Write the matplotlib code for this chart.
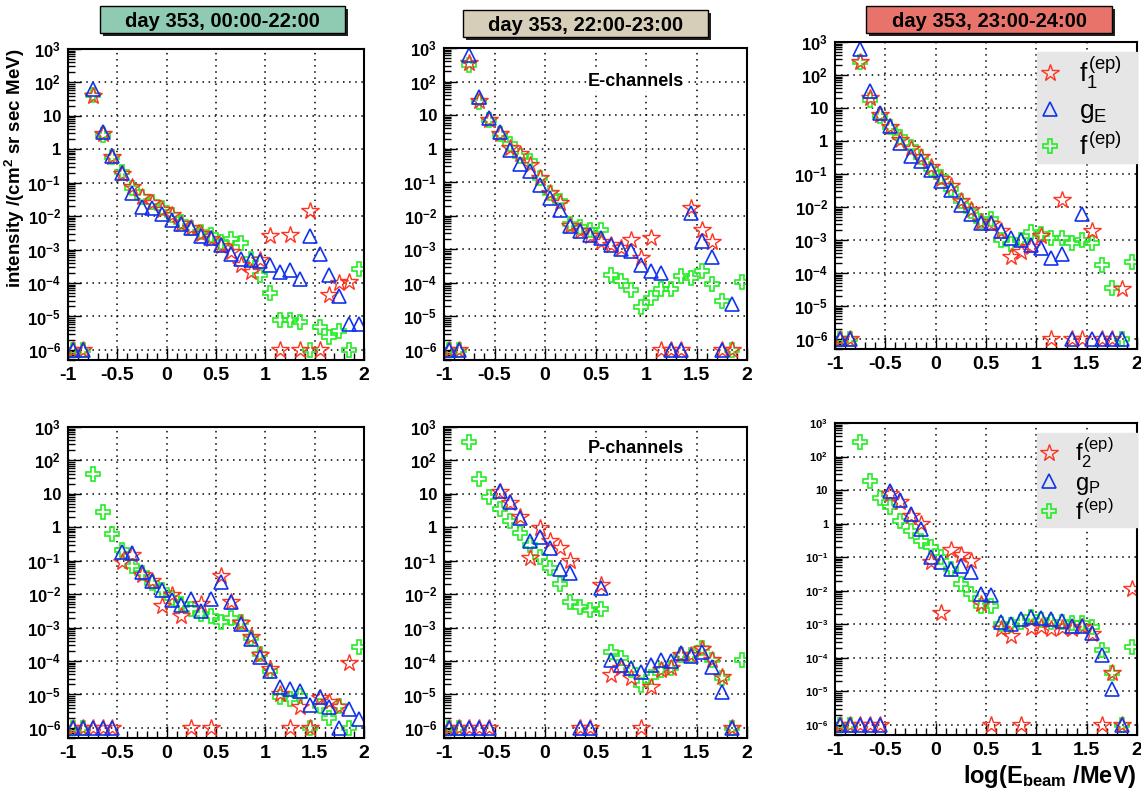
import numpy as np
import matplotlib
matplotlib.use('Agg')
import matplotlib.pyplot as plt
from matplotlib.patches import Rectangle
from matplotlib.ticker import MultipleLocator, LogLocator, NullFormatter

plt.rcParams['font.family'] = 'Liberation Sans'
plt.rcParams['mathtext.fontset'] = 'custom'
plt.rcParams['mathtext.rm'] = 'Liberation Sans'
plt.rcParams['mathtext.it'] = 'Liberation Sans'
plt.rcParams['mathtext.bf'] = 'Liberation Sans:bold'
plt.rcParams['axes.unicode_minus'] = False

Z = 1e-6     # empty bins sit on the floor
N = np.nan   # bin not drawn

# bin centres, log(E_beam/MeV)
log_e = [-0.95, -0.85, -0.75, -0.65, -0.55, -0.45, -0.35, -0.25, -0.15, -0.05,
         0.05, 0.15, 0.25, 0.35, 0.45, 0.55, 0.65, 0.75, 0.85, 0.95,
         1.05, 1.15, 1.25, 1.35, 1.45, 1.55, 1.65, 1.75, 1.85, 1.95]

# %% E-channels
e1_f1 = [Z, Z, 38, 2.8, 0.6, 0.18, 0.075, 0.038, 0.024, 0.015, 0.011, 0.006, 0.0045, 0.003, 0.0021,
         0.0013, 8.5e-4, 3.4e-4, 2.1e-4, 5e-4, 2.6e-3, Z, 2.8e-3, Z, 0.0145, Z, 4.5e-5, 1.0e-4, 1.07e-4, N]
e1_gE = [Z, Z, 65, 3.2, 0.63, 0.2, 0.048, 0.019, 0.017, 0.012, 0.0076, 0.0058, 0.0043, 0.0026, 0.0022,
         0.0014, 7.6e-4, 5.4e-4, 4.8e-4, 4.5e-4, 3.4e-4, 2.1e-4, 2.5e-4, 1.35e-4, 2.6e-3, 7.6e-4, 1.8e-4, 4.1e-5, 6e-6, 6e-6]
e1_f = [Z, Z, 42, 2.6, 0.6, 0.21, 0.068, 0.038, 0.027, 0.017, 0.011, 0.0068, 0.0045, 0.0034, 0.0027,
        0.0017, 0.0021, 0.0016, 5.4e-4, 1.7e-4, 5.1e-5, 8e-6, 8e-6, 7e-6, Z, 5e-6, 2.4e-6, 3.8e-6, Z, 2.6e-4]

e2_f1 = [Z, Z, 350, 26, 7, 2.8, 1.07, 0.68, 0.32, 0.13, 0.048, 0.024, 0.0048, 0.0034, 0.0025,
         0.0017, 0.0013, 0.0011, 0.0019, 5.4e-4, 2.2e-3, Z, Z, Z, 0.017, 3.8e-3, 1.7e-3, Z, Z, N]
e2_gE = [Z, Z, 600, 35, 8, 3.2, 0.9, 0.34, 0.21, 0.085, 0.034, 0.015, 0.005, 0.0034, 0.0027,
         0.0021, 0.0013, 1.0e-3, 8.8e-4, 3.5e-4, 2.2e-4, 1.9e-4, Z, Z, 0.012, 1.8e-3, 6e-4, Z, 2.4e-5, N]
e2_f = [Z, Z, 320, 24, 7, 2.8, 1.35, 0.6, 0.43, 0.13, 0.048, 0.027, 0.0056, 0.0045, 0.0038,
        0.0038, 1.7e-4, 1.1e-4, 6e-5, 1.9e-5, 3.5e-5, 6.5e-5, 6.5e-5, 1.6e-4, 1.4e-4, 2.2e-4, 9.5e-5, 2.9e-5, Z, 1.07e-4]

e3_f1 = [Z, Z, 250, 20, 6, 2.7, 1.1, 0.57, 0.32, 0.16, 0.073, 0.042, 0.015, 0.0083, 0.0036,
         0.003, 0.0019, 3e-4, 4.3e-4, 6.3e-4, 1.3e-3, Z, 0.0166, Z, Z, 1.9e-3, Z, Z, 3.2e-5, N]
e3_gE = [Z, Z, 600, 32, 7, 2.9, 0.87, 0.35, 0.24, 0.13, 0.062, 0.033, 0.0118, 0.0063, 0.0033,
         0.0033, 0.0019, 0.00115, 1.0e-3, 7.2e-4, 5.6e-4, 2.9e-4, 3.8e-4, Z, 6e-3, Z, Z, Z, Z, N]
e3_f = [Z, Z, 250, 18, 5.7, 2.6, 1.3, 0.64, 0.32, 0.14, 0.08, 0.036, 0.015, 0.0075, 0.0038,
        0.0042, 1.0e-3, 7.6e-4, 1.0e-3, 1.7e-3, 1.5e-3, 1.15e-3, 1.15e-3, 8e-4, 1.0e-3, 8e-4, 1.7e-4, 3.5e-5, Z, 2.2e-4]

# %% P-channels
p1_f2 = [Z, Z, Z, Z, Z, 0.093, 0.15, 0.037, 0.024, 0.0045, 0.0095, 0.0023, Z, 0.0052, Z,
         0.035, 0.006, 1.4e-3, 5.2e-4, 1.5e-4, 5.9e-5, 1.05e-5, Z, 4.2e-6, Z, 8e-6, 5.9e-6, 4.2e-6, 8.9e-5, N]
p1_gP = [Z, Z, Z, Z, Z, 0.18, 0.17, 0.047, 0.025, 0.013, 0.0066, 0.0047, 0.0074, 0.0031, 0.0074,
         0.023, 0.0059, 1.3e-3, 4.7e-4, 1.3e-4, 5.2e-5, 1.65e-5, 1.5e-5, 1.3e-5, 4.9e-6, 8.3e-6, 4.2e-6, Z, 3.7e-6, 1.8e-6]
p1_f = [Z, Z, 39, 2.8, 0.63, 0.21, 0.068, 0.042, 0.021, 0.013, 0.0078, 0.0052, 0.0037, 0.0026, 0.0023,
        0.0015, 0.0019, 0.0015, 4.9e-4, 1.66e-4, 5.2e-5, 8.3e-6, 7.4e-6, 9.3e-6, Z, 4.5e-6, 2e-6, 4.5e-6, Z, 2.6e-4]

p2_f2 = [Z, Z, Z, Z, Z, 11, 5.5, 2, 0.125, 0.95, 0.4, 0.24, 0.1, Z, Z,
         0.019, 3.9e-5, 6e-5, 3.2e-5, Z, 1.7e-5, 5.4e-5, 6.2e-5, 1.48e-4, 1.55e-4, 2.3e-4, 1.1e-4, 3.4e-5, Z, N]
p2_gP = [Z, Z, Z, Z, Z, 12, 5.9, 1.95, 0.4, 0.52, 0.245, 0.055, 0.042, Z, Z,
         0.015, 1.1e-4, 7.6e-5, 6e-5, 4.6e-5, 7.6e-5, 1.1e-4, 1e-4, 1.8e-4, 1.45e-4, 1.9e-4, 6.6e-5, 1.2e-5, Z, N]
p2_f = [Z, Z, 350, 28, 7.8, 3.5, 1.5, 0.66, 0.29, 0.13, 0.059, 0.02, 0.0058, 0.004, 0.0034,
        0.0036, 1.9e-4, 1.2e-4, 5.4e-5, 1.9e-5, 3.4e-5, 5.4e-5, 6e-5, 1.5e-4, 1.5e-4, 2.4e-4, 1.07e-4, 3.2e-5, Z, 1.1e-4]

p3_f2 = [Z, Z, Z, Z, Z, 7.7, 4.3, 1.7, 1.0, 0.07, 0.0021, 0.16, 0.12, 0.077, 0.0039,
         Z, 7e-4, 4.5e-4, Z, 8e-4, 8.2e-4, 7e-4, 8e-4, 7e-4, 8.2e-4, 5.3e-4, Z, 3.6e-5, Z, 0.011]
p3_gP = [Z, Z, Z, Z, Z, 9.5, 4.9, 1.9, 0.7, 0.1, 0.07, 0.044, 0.055, 0.035, 0.008,
         0.0075, 1.2e-3, 1.05e-3, 1.4e-3, 1.6e-3, 1.5e-3, 1.4e-3, 1.25e-3, 9e-4, 9e-4, 5.6e-4, 1.2e-4, 1.2e-5, Z, N]
p3_f = [Z, Z, 270, 19, 6, 3.1, 1.2, 0.6, 0.31, 0.2, 0.1, 0.045, 0.016, 0.0078, 0.0036,
        0.0036, 1e-3, 9.5e-4, 1.2e-3, 1.6e-3, 1.35e-3, 1.2e-3, 1.2e-3, 1.1e-3, 1.1e-3, 8.3e-4, 1.7e-4, 3.5e-5, Z, 2.1e-4]

titles = ['day 353, 00:00-22:00', 'day 353, 22:00-23:00', 'day 353, 23:00-24:00']
title_colors = ['#8fcab2', '#d6ceb8', '#e8736a']

y_ticks = [1e-6, 1e-5, 1e-4, 1e-3, 1e-2, 1e-1, 1, 10, 1e2, 1e3]
y_labels = [r'$\mathbf{10^{-6}}$', r'$\mathbf{10^{-5}}$', r'$\mathbf{10^{-4}}$', r'$\mathbf{10^{-3}}$',
            r'$\mathbf{10^{-2}}$', r'$\mathbf{10^{-1}}$', '1', '10', r'$\mathbf{10^{2}}$', r'$\mathbf{10^{3}}$']
x_ticks = [-1, -0.5, 0, 0.5, 1, 1.5, 2]
x_labels = ['-1', '-0.5', '0', '0.5', '1', '1.5', '2']

RED, BLUE, GREEN = '#ff3322', '#1133ee', '#22ee22'

W, H = 1141, 794
fig = plt.figure(figsize=(W / 100, H / 100), dpi=100)


def px_axes(l, t, r, b):
    return fig.add_axes([l / W, 1 - b / H, (r - l) / W, (b - t) / H])


def style(ax, ylab_size=12):
    ax.set_yscale('log')
    ax.set_xlim(-1, 2)
    ax.set_ylim(5e-7, 1e3)
    ax.set_xticks(x_ticks, labels=x_labels, fontsize=14, fontweight='bold')
    ax.set_yticks(y_ticks, labels=y_labels, fontsize=ylab_size, fontweight='bold')
    ax.xaxis.set_minor_locator(MultipleLocator(0.1))
    ax.yaxis.set_minor_locator(LogLocator(base=10, subs=np.arange(2, 10) * 1.0, numticks=30))
    ax.yaxis.set_minor_formatter(NullFormatter())
    ax.tick_params(which='both', direction='in', top=False, right=False, width=1)
    ax.tick_params(which='major', length=9, pad=5)
    ax.tick_params(which='minor', length=5)
    ax.grid(True, which='major', color='k', linestyle=(0, (1, 3)), linewidth=1.1)
    for s in ax.spines.values():
        s.set_linewidth(1.5)


def draw(ax, f_pair, g, f):
    ax.plot(log_e, f, ls='none', marker='P', ms=10.5, mfc='none', mec=GREEN, mew=1.2)
    ax.plot(log_e, f_pair, ls='none', marker='*', ms=13, mfc='none', mec=RED, mew=1.0)
    ax.plot(log_e, g, ls='none', marker='^', ms=10.5, mfc='none', mec=BLUE, mew=1.2)


def title_box(x0, y0, x1, y1, color, text):
    sh = 3
    fig.add_artist(Rectangle(((x0 + sh) / W, 1 - (y1 + sh) / H), (x1 - x0) / W, (y1 - y0) / H,
                             transform=fig.transFigure, fc='#222222', ec='none'))
    fig.add_artist(Rectangle((x0 / W, 1 - y1 / H), (x1 - x0) / W, (y1 - y0) / H,
                             transform=fig.transFigure, fc=color, ec='k', lw=1))
    fig.text((x0 + x1) / 2 / W, 1 - (y0 + y1) / 2 / H, text, ha='center', va='center_baseline',
             fontsize=14.5, fontweight='bold')


def legend_box(ax, labels, y_top, height, size, spacing):
    star, tri, plus = ax.lines[1], ax.lines[2], ax.lines[0]
    ax.legend([star, tri, plus], labels,
              loc='upper left', bbox_to_anchor=(0.669, y_top - height, 0.331, height),
              mode='expand', borderaxespad=0, frameon=True, fancybox=False,
              facecolor='#e6e6e6', edgecolor='#e6e6e6', framealpha=1,
              fontsize=size, handlelength=0.8, handletextpad=0.7, labelspacing=spacing,
              borderpad=0.1)


# top row: E-channels
ax1 = px_axes(68, 49, 364, 360)
ax2 = px_axes(444, 48, 747, 360)
ax3 = px_axes(835, 42, 1137, 349)
# bottom row: P-channels
ax4 = px_axes(68, 427, 364, 738)
ax5 = px_axes(444, 427, 747, 738)
ax6 = px_axes(835, 423, 1137, 735)

for ax in (ax1, ax2, ax3, ax4, ax5):
    style(ax)
style(ax6, ylab_size=8)

draw(ax1, e1_f1, e1_gE, e1_f)
draw(ax2, e2_f1, e2_gE, e2_f)
draw(ax3, e3_f1, e3_gE, e3_f)
draw(ax4, p1_f2, p1_gP, p1_f)
draw(ax5, p2_f2, p2_gP, p2_f)
draw(ax6, p3_f2, p3_gP, p3_f)

legend_box(ax3, [r'$f_1^{(ep)}$', r'$g_E$', r'$f^{(ep)}$'], 0.967, 0.375, 19, 0.3)
legend_box(ax6, [r'$f_2^{(ep)}$', r'$g_P$', r'$f^{(ep)}$'], 0.968, 0.295, 17, 0.12)

ax2.text(0.634, 0.894, 'E-channels', transform=ax2.transAxes, ha='center', va='center',
         fontsize=13, fontweight='bold', bbox=dict(fc='white', ec='none', pad=1))
ax5.text(0.634, 0.932, 'P-channels', transform=ax5.transAxes, ha='center', va='center',
         fontsize=13, fontweight='bold', bbox=dict(fc='white', ec='none', pad=1))

title_box(100, 6, 345, 33, title_colors[0], titles[0])
title_box(463, 10, 708, 37, title_colors[1], titles[1])
title_box(866, 6, 1112, 33, title_colors[2], titles[2])

fig.text(15 / W, 1 - 49 / H, r'intensity /(cm$^\mathbf{2}$ sr sec MeV)', rotation=90,
         ha='center', va='top', fontsize=13.5, fontweight='bold')
fig.text(1137 / W, 1 - 776 / H, r'log(E$_{\mathbf{beam}}$ /MeV)', ha='right', va='center',
         fontsize=17, fontweight='bold')

fig.savefig('out.png', dpi=100)
